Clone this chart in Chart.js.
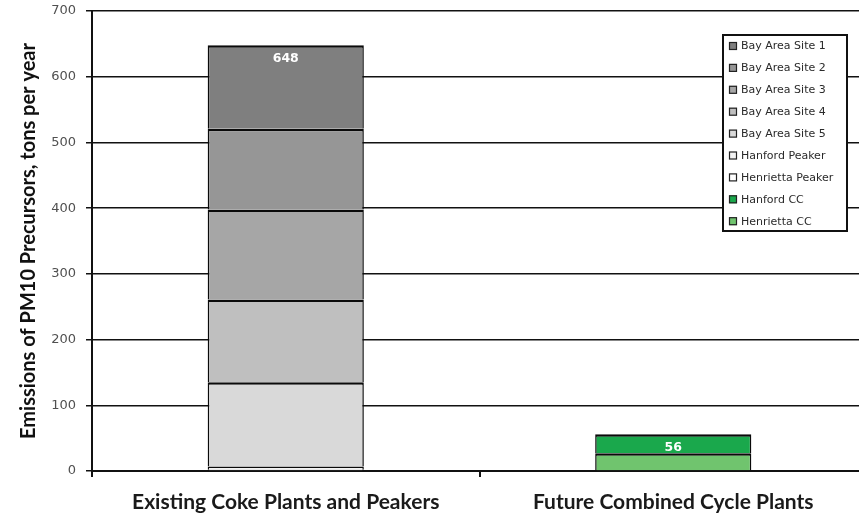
<!DOCTYPE html>
<html>
<head>
<meta charset="utf-8">
<script src="https://cdn.jsdelivr.net/npm/chart.js@4/dist/chart.umd.min.js"></script>
<style>
  html, body { margin: 0; padding: 0; background: #fff; overflow: hidden; }
  #wrap { position: relative; width: 867px; height: 517px; }
</style>
</head>
<body>
<div id="wrap"><canvas id="chart"></canvas></div>
<script>
// Categories along the x axis
const categories = ['Existing Coke Plants and Peakers', 'Future Combined Cycle Plants'];

// Emissions by source, tons per year: [existing, future]
const baySite1 = [127, null];
const baySite2 = [123, null];
const baySite3 = [137, null];
const baySite4 = [126, null];
const baySite5 = [128, null];
const hanfordPeaker = [5, null];
const henriettaPeaker = [2, null];
const hanfordCC = [null, 29];
const henriettaCC = [null, 27];

// Y axis ticks
const yTicks = [0, 100, 200, 300, 400, 500, 600, 700];

const yTitle = 'Emissions of PM10 Precursors, tons per year';

// Series in legend order (top of legend = top of stack)
const series = [
  { label: 'Bay Area Site 1', data: baySite1, color: '#7f7f7f' },
  { label: 'Bay Area Site 2', data: baySite2, color: '#969696' },
  { label: 'Bay Area Site 3', data: baySite3, color: '#a6a6a6' },
  { label: 'Bay Area Site 4', data: baySite4, color: '#bfbfbf' },
  { label: 'Bay Area Site 5', data: baySite5, color: '#d9d9d9' },
  { label: 'Hanford Peaker', data: hanfordPeaker, color: '#f2f2f2' },
  { label: 'Henrietta Peaker', data: henriettaPeaker, color: '#ffffff' },
  { label: 'Hanford CC', data: hanfordCC, color: '#1aa84c' },
  { label: 'Henrietta CC', data: henriettaCC, color: '#70c46e' }
];

// Chart.js stacks the first dataset at the bottom, so reverse the legend order.
// Each segment draws only its top and sides, so stacked boundaries stay single lines.
const datasets = series.slice().reverse().map(s => ({
  label: s.label,
  data: s.data,
  backgroundColor: s.color,
  borderColor: '#0a0a0a',
  borderWidth: { top: 2.5, left: 1.5, right: 1.5, bottom: 0 },
  borderSkipped: false,
  barPercentage: 0.403,
  categoryPercentage: 1.0
}));

// Total label written inside the top segment of each stack
const totalLabels = {
  id: 'totalLabels',
  afterDatasetsDraw(chart) {
    const ctx = chart.ctx;
    ctx.save();
    ctx.font = 'bold 12.5px "DejaVu Sans", sans-serif';
    ctx.fillStyle = '#ffffff';
    ctx.textAlign = 'center';
    ctx.textBaseline = 'middle';
    categories.forEach((c, i) => {
      let total = 0;
      chart.data.datasets.forEach(ds => { total += ds.data[i] || 0; });
      const x = chart.scales.x.getPixelForValue(i);
      const y = chart.scales.y.getPixelForValue(total);
      ctx.fillText(String(total), x, y + 14);
    });
    ctx.restore();
  }
};

// Boxed legend drawn over the plot, upper right
const boxLegend = {
  id: 'boxLegend',
  afterDraw(chart) {
    const ctx = chart.ctx;
    const left = 723, top = 35, w = 124, h = 196;
    ctx.save();
    ctx.fillStyle = '#ffffff';
    ctx.fillRect(left, top, w, h);
    ctx.lineWidth = 2;
    ctx.strokeStyle = '#111';
    ctx.strokeRect(left, top, w, h);
    ctx.font = '11px "DejaVu Sans", sans-serif';
    ctx.textBaseline = 'middle';
    ctx.textAlign = 'left';
    series.forEach((s, i) => {
      const cy = top + 11 + i * 21.9;
      ctx.fillStyle = s.color;
      ctx.fillRect(left + 6, cy - 4, 8, 8);
      ctx.lineWidth = 1.2;
      ctx.strokeStyle = '#222';
      ctx.strokeRect(left + 6.5, cy - 3.5, 7, 7);
      ctx.fillStyle = '#2a2a2a';
      ctx.fillText(s.label, left + 18, cy + 0.5);
    });
    ctx.restore();
  }
};

new Chart(document.getElementById('chart'), {
  type: 'bar',
  data: { labels: categories, datasets },
  plugins: [totalLabels, boxLegend],
  options: {
    responsive: true,
    maintainAspectRatio: false,
    animation: false,
    layout: { padding: { top: 11, right: 0, bottom: 0, left: 0 } },
    plugins: {
      legend: { display: false },
      tooltip: { enabled: false }
    },
    scales: {
      x: {
        stacked: true,
        offset: true,
        afterFit(scale) { scale.height = 46; },
        grid: {
          offset: true,
          drawOnChartArea: false,
          drawTicks: true,
          tickLength: 6,
          color: '#111',
          lineWidth: 2
        },
        border: { display: true, color: '#111', width: 2 },
        ticks: {
          padding: 13,
          color: '#1a1a1a',
          font: { family: 'Lato, sans-serif', size: 21, weight: 'bold' },
          maxRotation: 0
        }
      },
      y: {
        stacked: true,
        min: 0,
        max: 700,
        afterFit(scale) {
          scale.width = 92;
          scale.paddingTop = 0;
          scale.paddingBottom = 0;
        },
        afterBuildTicks(scale) { scale.ticks = yTicks.map(v => ({ value: v })); },
        grid: {
          color: '#111',
          lineWidth: 1.5,
          drawTicks: true,
          tickLength: 6
        },
        border: { display: true, color: '#111', width: 2 },
        ticks: {
          padding: 10,
          color: '#505050',
          font: { family: '"DejaVu Sans", sans-serif', size: 13 }
        },
        title: {
          display: true,
          text: yTitle,
          color: '#111',
          padding: { top: 17, bottom: 0 },
          font: { family: 'Lato, sans-serif', size: 20, weight: 'bold' }
        }
      }
    }
  }
});
</script>
</body>
</html>
